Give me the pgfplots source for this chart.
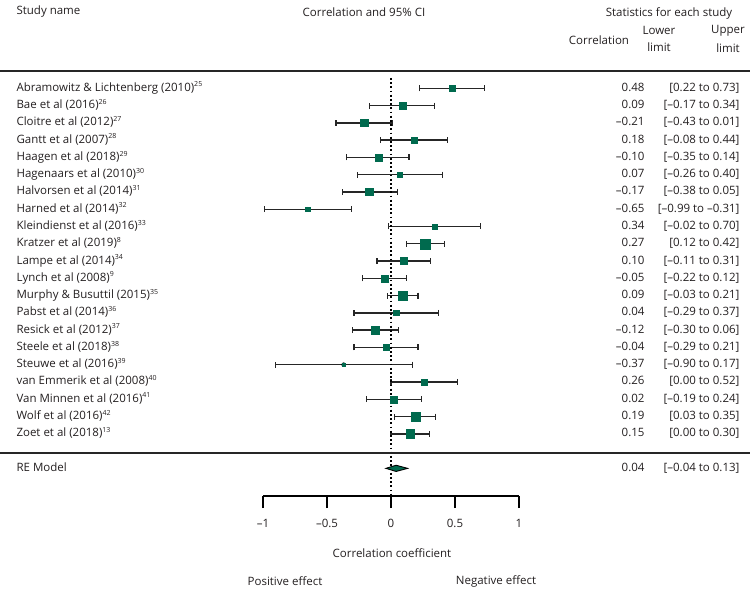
\documentclass[border=0pt]{standalone}
\usepackage{pgfplots}
\pgfplotsset{compat=1.18}
\usepackage{pgfplotstable}
\usepackage{fontspec}
\setmainfont{Open Sans}
\definecolor{fgreen}{RGB}{0,106,78}
\definecolor{txt}{RGB}{35,31,32}
\newcommand{\sref}[1]{\textsuperscript{\fontsize{7}{7}\selectfont #1}}
\pgfplotstableread{
row r lo hi s
1 0.48 0.22 0.73 3.0
2 0.09 -0.17 0.34 3.5
3 -0.21 -0.43 0.01 3.6
4 0.18 -0.08 0.44 3.0
5 -0.10 -0.35 0.14 3.5
6 0.07 -0.26 0.40 2.5
7 -0.17 -0.38 0.05 3.7
8 -0.65 -0.99 -0.31 2.2
9 0.34 -0.02 0.70 2.5
10 0.27 0.12 0.42 5.0
11 0.10 -0.11 0.31 3.5
12 -0.05 -0.22 0.12 3.5
13 0.09 -0.03 0.21 4.4
14 0.04 -0.29 0.37 2.8
15 -0.12 -0.30 0.06 4.0
16 -0.04 -0.29 0.21 3.1
17 -0.37 -0.90 0.17 1.5
18 0.26 0.00 0.52 2.8
19 0.02 -0.19 0.24 3.5
20 0.19 0.03 0.35 4.4
21 0.15 0.00 0.30 4.3
}\studies
\begin{document}
\begin{tikzpicture}[font=\fontsize{11.5}{13}\selectfont, every node/.style={text=txt}]
\useasboundingbox (0,0) rectangle (750pt,589pt);
\begin{axis}[at={(263pt,93pt)}, anchor=south west, scale only axis,
  width=256pt, height=425pt,
  xmin=-1, xmax=1, ymin=-24.6, ymax=0, clip=false,
  axis x line*=bottom, axis y line=none,
  x axis line style={-, line width=1.3pt, black},
  xtick={-1,-0.5,0,0.5,1},
  xticklabels={–1,–0.5,0,0.5,1},
  tick align=outside, major tick length=12pt,
  tick style={line width=1.3pt, black},
  xticklabel style={font=\fontsize{11.5}{13}\selectfont, text=txt, yshift=-7pt},
  typeset ticklabels with strut,
]
% whiskers
\addplot[only marks, mark=none,
  error bars/.cd, x dir=both, x explicit, error mark=|,
  error bar style={line width=1.4pt, black!85},
  error mark options={mark size=3pt, line width=1.3pt, black!85}]
  table[x=r, y expr=-\thisrow{row},
        x error plus expr=\thisrow{hi}-\thisrow{r},
        x error minus expr=\thisrow{r}-\thisrow{lo}] {\studies};
% null line
\addplot[black, line width=1.5pt, dash pattern=on 1.8pt off 2.4pt]
  coordinates {(0,-0.4) (0,-24.6)};
% squares
\addplot[scatter, only marks, mark=square*, point meta=explicit,
  scatter/use mapped color={draw=fgreen, fill=fgreen},
  visualization depends on={\thisrow{s} \as \msz},
  scatter/@pre marker code/.append style={/tikz/mark size=\msz pt}]
  table[x=r, y expr=-\thisrow{row}, meta=s] {\studies};
% RE model diamond
\addplot[fill=fgreen, draw=black, line width=0.9pt]
  coordinates {(-0.04,-23) (0.04,-22.82) (0.13,-23) (0.04,-23.18)} -- cycle;
\end{axis}
\begin{scope}[x=1pt, y=-1pt, yshift=589pt]
\draw[line width=1.8pt, black!85] (0,71) -- (750,71);
\draw[line width=1.5pt, black!85] (0,453) -- (750,453);
\node[anchor=west] at (13,12) {Study name};
\node at (364,12) {Correlation and 95\% CI};
\node at (669,13) {Statistics for each study};
\node at (599,40) {Correlation};
\node at (659,30) {Lower};
\node at (659,47) {limit};
\node at (728,31) {Upper};
\node at (728,48) {limit};
\foreach \i/\nm/\c/\ci in {
 1/{Abramowitz \& Lichtenberg (2010)\sref{25}}/0.48/{[0.22 to 0.73]},
 2/{Bae et al (2016)\sref{26}}/0.09/{[–0.17 to 0.34]},
 3/{Cloitre et al (2012)\sref{27}}/–0.21/{[–0.43 to 0.01]},
 4/{Gantt et al (2007)\sref{28}}/0.18/{[–0.08 to 0.44]},
 5/{Haagen et al (2018)\sref{29}}/–0.10/{[–0.35 to 0.14]},
 6/{Hagenaars et al (2010)\sref{30}}/0.07/{[–0.26 to 0.40]},
 7/{Halvorsen et al (2014)\sref{31}}/–0.17/{[–0.38 to 0.05]},
 8/{Harned et al (2014)\sref{32}}/–0.65/{[–0.99 to –0.31]},
 9/{Kleindienst et al (2016)\sref{33}}/0.34/{[–0.02 to 0.70]},
 10/{Kratzer et al (2019)\sref{8}}/0.27/{[0.12 to 0.42]},
 11/{Lampe et al (2014)\sref{34}}/0.10/{[–0.11 to 0.31]},
 12/{Lynch et al (2008)\sref{9}}/–0.05/{[–0.22 to 0.12]},
 13/{Murphy \& Busuttil (2015)\sref{35}}/0.09/{[–0.03 to 0.21]},
 14/{Pabst et al (2014)\sref{36}}/0.04/{[–0.29 to 0.37]},
 15/{Resick et al (2012)\sref{37}}/–0.12/{[–0.30 to 0.06]},
 16/{Steele et al (2018)\sref{38}}/–0.04/{[–0.29 to 0.21]},
 17/{Steuwe et al (2016)\sref{39}}/–0.37/{[–0.90 to 0.17]},
 18/{van Emmerik et al (2008)\sref{40}}/0.26/{[0.00 to 0.52]},
 19/{Van Minnen et al (2016)\sref{41}}/0.02/{[–0.19 to 0.24]},
 20/{Wolf et al (2016)\sref{42}}/0.19/{[0.03 to 0.35]},
 21/{Zoet et al (2018)\sref{13}}/0.15/{[0.00 to 0.30]},
 23/{RE Model}/0.04/{[–0.04 to 0.13]}} {
  \pgfmathsetmacro\yy{71+17.276*\i}
  \node[anchor=west, text height=8.5pt, text depth=2.5pt] at (13,\yy) {\nm};
  \node[anchor=east, text height=8.5pt, text depth=2.5pt] at (648,\yy) {\c};
  \node[anchor=east, text height=8.5pt, text depth=2.5pt] at (743,\yy) {\ci};
}
\node at (392,553) {Correlation coefficient};
\node at (285,581) {Positive effect};
\node at (496,581) {Negative effect};
\end{scope}
\end{tikzpicture}
\end{document}
